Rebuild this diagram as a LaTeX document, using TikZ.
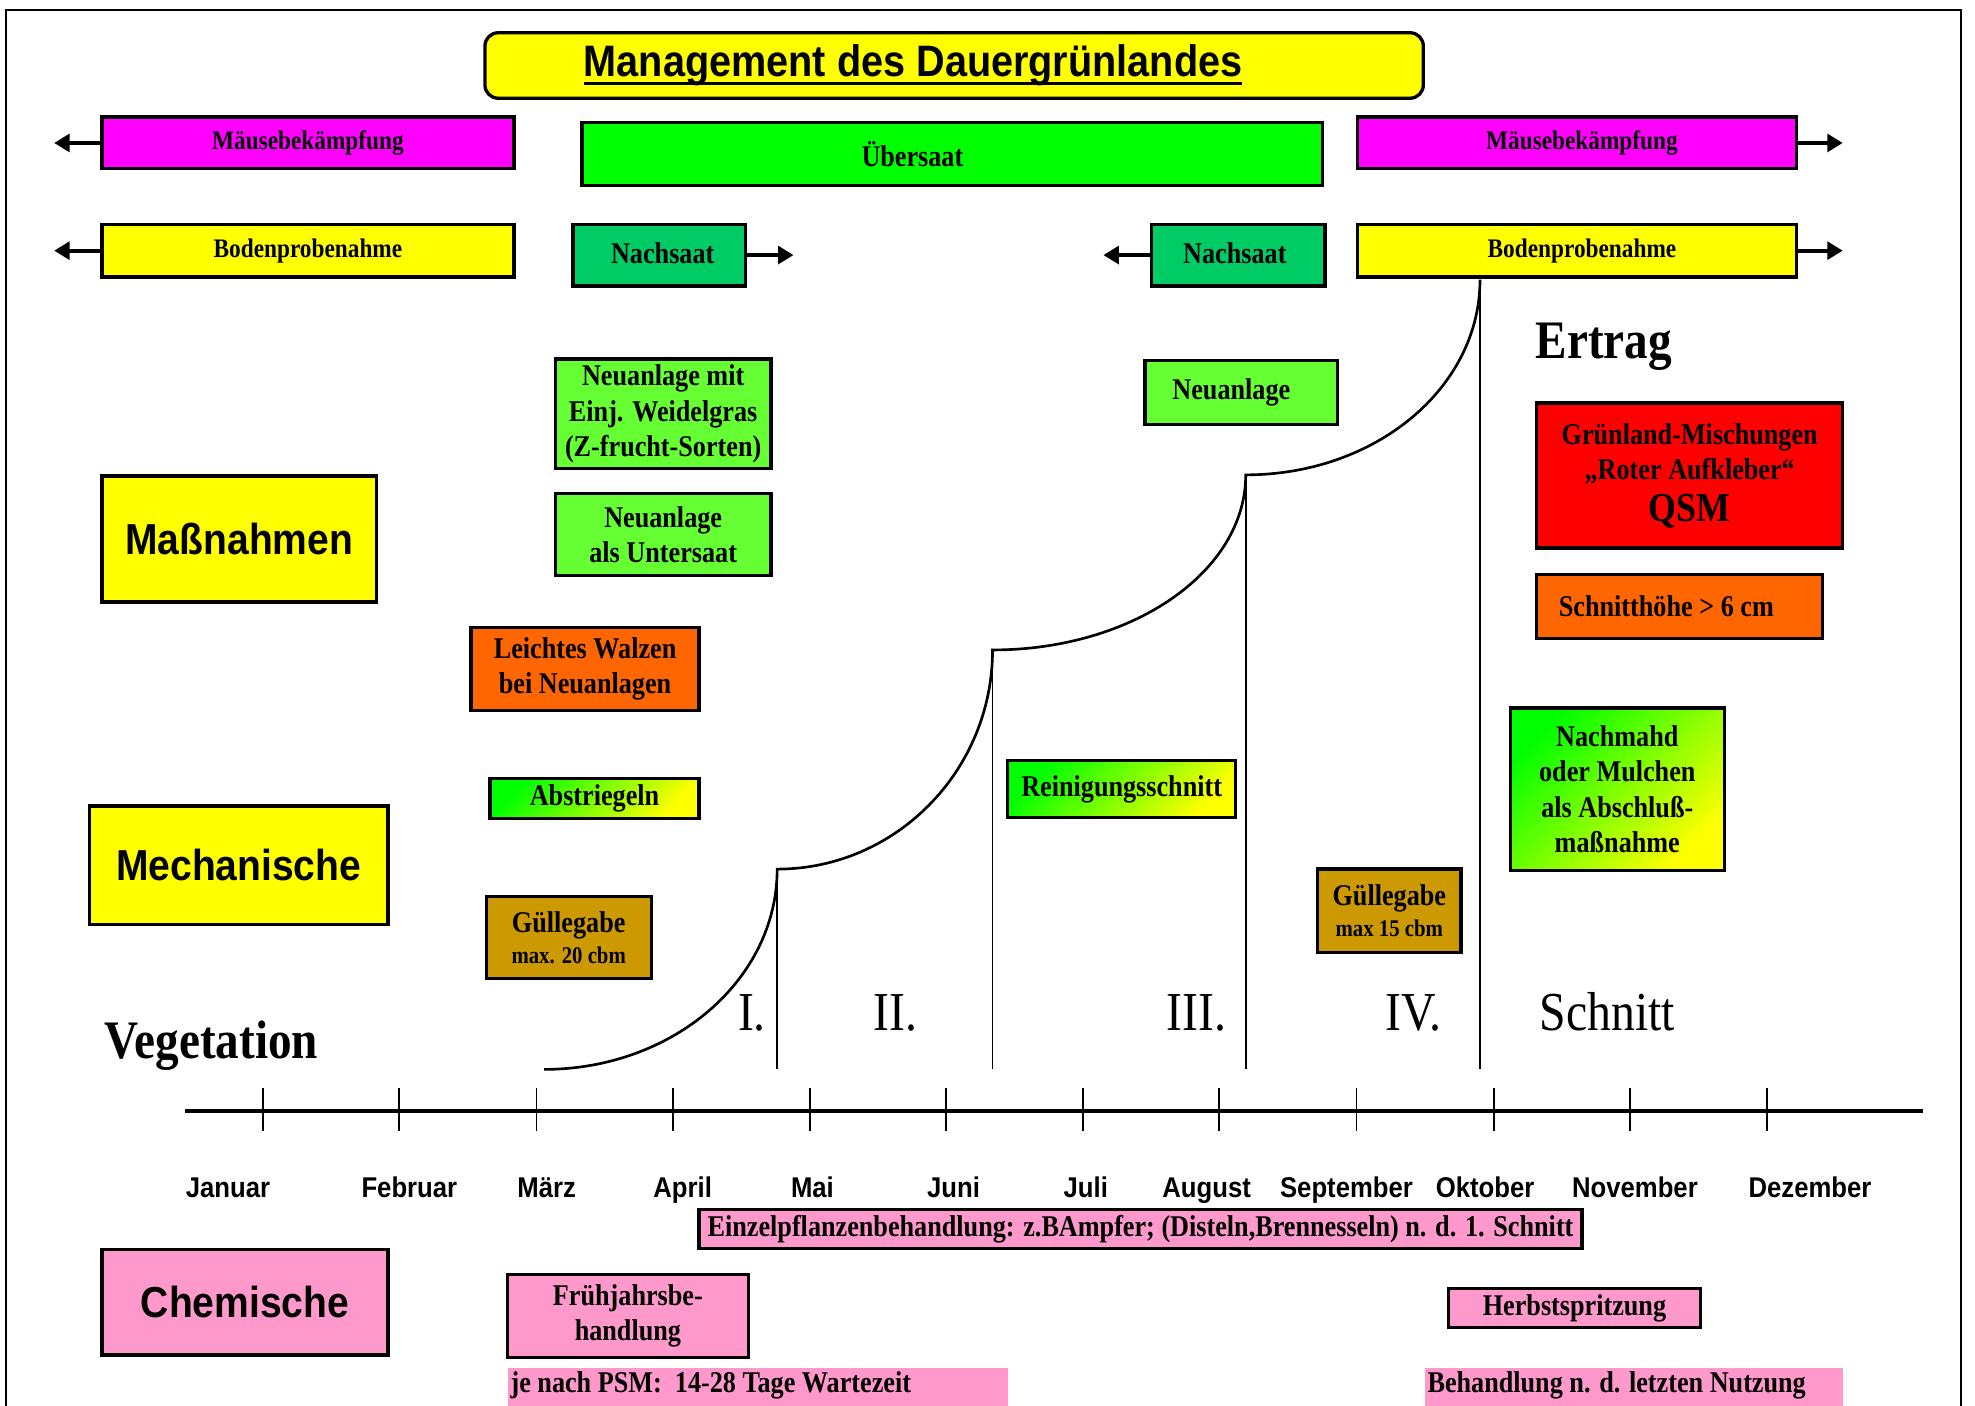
\documentclass[tikz,border=0pt]{standalone}
\usepackage{fontspec}
\setmainfont{Liberation Serif}[FakeStretch=0.87]
\newfontfamily\ar{Liberation Sans}[FakeStretch=0.9]
\usetikzlibrary{arrows.meta}
\definecolor{cmag}{HTML}{FF00FF}
\definecolor{cgreen}{HTML}{00FF00}
\definecolor{cnach}{HTML}{00CC66}
\definecolor{cyellow}{HTML}{FFFF00}
\definecolor{clight}{HTML}{66FF33}
\definecolor{corange}{HTML}{FF6600}
\definecolor{cgold}{HTML}{CC9900}
\definecolor{cred}{HTML}{FF0000}
\definecolor{cpink}{HTML}{FF99CC}
\newcommand\ul[1]{\setbox0=\hbox{#1}\rlap{\vrule height -2.2pt depth 3.6pt width \wd0}\box0}
\begin{document}
\begin{tikzpicture}[x=0.02cm,y=-0.02cm,
  rect/.style n args={4}{minimum width={(#3-#1)*0.02cm}, minimum height={(#4-#2)*0.02cm}, at={({(#1+#3)/2},{(#2+#4)/2})}},
  box/.style={draw=black,line width=1.5pt,inner sep=0pt,align=center,font=\bfseries\fontsize{13.6}{15.9}\selectfont},
  bar/.style={box,font=\bfseries\fontsize{12.1}{14}\selectfont},
  cat/.style={box,line width=1.7pt,font=\ar\bfseries\fontsize{19.6}{23}\selectfont},
  grad/.style={top color=cgreen,bottom color=cyellow,shading angle=45},
  plain/.style={inner sep=0pt,align=center,font=\bfseries\fontsize{13.6}{15.9}\selectfont},
  arr/.style={line width=1.8pt,-{Triangle[length=7pt,width=8pt]}},
  month/.style={font=\ar\bfseries\fontsize{12.9}{15}\selectfont,inner sep=0pt},
  big/.style={font=\fontsize{24.8}{28}\selectfont,inner sep=0pt},
  bigb/.style={font=\bfseries\fontsize{24.5}{28}\selectfont,inner sep=0pt},
  curve/.style={line width=1.2pt},
  vline/.style={line width=0.7pt}]
\useasboundingbox (0,0) rectangle (1568,1116);
\fill[white] (0,0) rectangle (1568,1116);
% frame
\draw[line width=1pt] (5,1116) -- (5,8) -- (1557,8) -- (1557,1116);

% title
\node[box,fill=cyellow,rounded corners=6pt,rect={385}{26}{1130}{78},font=\ar\bfseries\fontsize{19.9}{22}\selectfont] (title) {\ul{Management des Dauergrünlandes}\hspace*{37pt}};

% top bars
\node[bar,fill=cmag,rect={81}{93}{408}{134}] (mauseL) {\raisebox{3pt}{Mäusebekämpfung}};
\node[box,fill=cgreen,rect={462}{97}{1050}{147}] (uebersaat) {Übersaat\hspace*{36pt}};
\node[bar,fill=cmag,rect={1078}{93}{1426}{134}] (mauseR) {\raisebox{3pt}{\hspace*{4.5pt}Mäusebekämpfung}};
\node[bar,fill=cyellow,rect={81}{178}{408}{220}] (bodenL) {\raisebox{2pt}{Bodenprobenahme}};
\node[box,fill=cnach,rect={455}{178}{592}{227}] (nachL) {\raisebox{2pt}{\hspace*{3pt}Nachsaat}};
\node[box,fill=cnach,rect={914}{178}{1052}{227}] (nachR) {\raisebox{2pt}{Nachsaat\hspace*{3pt}}};
\node[bar,fill=cyellow,rect={1078}{178}{1426}{220}] (bodenR) {\raisebox{2pt}{\hspace*{4.5pt}Bodenprobenahme}};

\coordinate (aML) at (43,113.5);
\coordinate (aMR) at (1463,113.5);
\coordinate (aBL) at (43,199);
\coordinate (aBR) at (1463,199);
\coordinate (aNL) at (630,202.5);
\coordinate (aNR) at (876,202.5);
\draw[arr] (mauseL.west) -- (aML);
\draw[arr] (mauseR.east) -- (aMR);
\draw[arr] (bodenL.west) -- (aBL);
\draw[arr] (bodenR.east) -- (aBR);
\draw[arr] (nachL.east) -- (aNL);
\draw[arr] (nachR.west) -- (aNR);

% category boxes
\node[cat,fill=cyellow,rect={81}{378}{299}{478}] (mass) {Maßnahmen};
\node[cat,fill=cyellow,rect={71}{640}{308}{734}] (mech) {Mechanische};
\node[cat,fill=cpink,rect={81}{992}{308}{1076}] (chem) {Chemische};

% middle boxes
\node[box,fill=clight,rect={441}{285}{612}{372}] (neu1) {Neuanlage mit\\Einj. Weidelgras\\(Z-frucht-Sorten)};
\node[box,fill=clight,rect={441}{392}{612}{457}] (neu2) {Neuanlage\\als Untersaat};
\node[box,fill=corange,rect={374}{498}{555}{564}] (walzen) {Leichtes Walzen\\bei Neuanlagen};
\node[box,grad,rect={389}{618}{555}{650}] (abstr) {Abstriegeln};
\node[box,fill=cgold,rect={386}{712}{517}{777}] (guelle1) {Güllegabe\\[-2pt]{\fontsize{10.8}{13}\selectfont max. 20 cbm}};
\node[box,fill=clight,rect={909}{286}{1062}{337}] (neu3) {Neuanlage\hspace{9pt}};
\node[box,grad,rect={800}{604}{981}{649}] (rein) {Reinigungsschnitt};
\node[box,fill=cgold,rect={1046}{690}{1160}{756}] (guelle2) {Güllegabe\\[-2pt]{\fontsize{10.8}{13}\selectfont max 15 cbm}};
\node[box,grad,rect={1199}{562}{1369}{691}] (nachmahd) {Nachmahd\\oder Mulchen\\als Abschluß-\\maßnahme};
\node[box,fill=cred,rect={1220}{320}{1463}{435}] (qsm) {Grünland-Mischungen\\„Roter Aufkleber“\\[3pt]{\fontsize{18.6}{20}\selectfont QSM}};
\node[box,fill=corange,rect={1220}{456}{1447}{507}] (schh) {Schnitthöhe > 6 cm\hspace{12pt}};

% labels
\node[bigb,anchor=base west] (ertrag) at (1219,285) {Ertrag};
\node[bigb,anchor=base west] (veg) at (83,840) {Vegetation};
\node[big,anchor=base] (r1) at (597,818) {I.};
\node[big,anchor=base] (r2) at (711,818) {II.};
\node[big,anchor=base] (r3) at (950,818) {III.};
\node[big,anchor=base] (r4) at (1122,818) {IV.};
\node[big,anchor=base west] (schnitt) at (1222,818) {Schnitt};

% growth curve
\coordinate (c0) at (432,849);
\coordinate (c1) at (617,690);
\coordinate (c2) at (788,516);
\coordinate (c3) at (989,377);
\coordinate (c4) at (1175,222);
\draw[curve] (c0) .. controls (534,849) and (617,778) .. (c1)
  .. controls (711,690) and (788,612) .. (c2)
  .. controls (899,516) and (989,454) .. (c3)
  .. controls (1092,377) and (1175,308) .. (c4);
\coordinate (b1) at (617,849);
\coordinate (b2) at (788,849);
\coordinate (b3) at (989,849);
\coordinate (b4) at (1175,849);
\draw[vline] (c1) -- (b1);
\draw[vline] (c2) -- (b2);
\draw[vline] (c3) -- (b3);
\draw[vline] (c4) -- (b4);

% axis
\coordinate (ax0) at (147,882);
\coordinate (ax1) at (1527,882);
\draw[line width=1.6pt] (ax0) -- (ax1);
\foreach \x in {209,317,426,534,643,751,860,968,1077,1186,1294,1403}
  \draw[line width=0.8pt] (\x,864) -- (\x,898);
\foreach \x/\m in {181/Januar,325/Februar,434/März,542/April,645/Mai,757/Juni,862/Juli,958/August,1069/September,1179/Oktober,1298/November,1437/Dezember}
  \node[month,anchor=base] (mon\x) at (\x,951) {\m};

% chemical boxes
\node[box,fill=cpink,rect={555}{960}{1256}{991}] (einzel) {Einzelpflanzenbehandlung: z.BAmpfer; (Disteln,Brennesseln) n. d. 1. Schnitt};
\node[box,fill=cpink,rect={403}{1012}{594}{1078}] (frueh) {Frühjahrsbe-\\handlung};
\node[box,fill=cpink,rect={1150}{1023}{1350}{1054}] (herbst) {Herbstspritzung};
\node[fill=cpink,inner sep=0pt,rect={403}{1086}{800}{1116}] (psmbg) {};
\node[plain,anchor=west] (psm) at (405,1100) {je nach PSM:\ \ 14-28 Tage Wartezeit};
\node[fill=cpink,inner sep=0pt,rect={1131}{1086}{1463}{1116}] (behbg) {};
\node[plain,anchor=west] (beh) at (1133,1100) {Behandlung n. d. letzten Nutzung};
\end{tikzpicture}
\end{document}
